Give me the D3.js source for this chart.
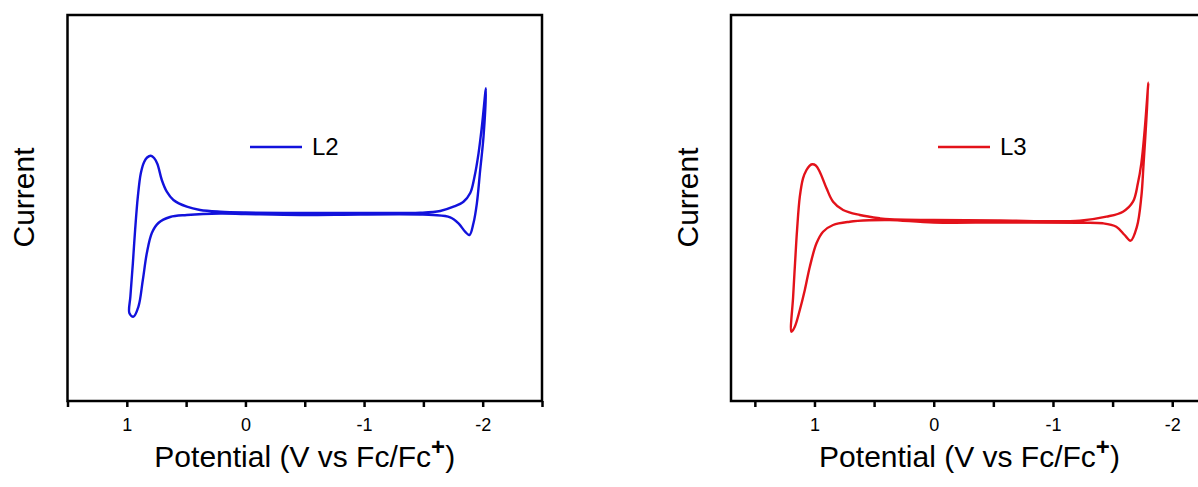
<!DOCTYPE html>
<html><head><meta charset="utf-8">
<script src="https://cdn.jsdelivr.net/npm/d3@7"></script>
<style>html,body{margin:0;padding:0;background:#fff;} svg{display:block;}</style>
</head><body><svg id="chart" width="1198" height="487"></svg>
<script>
// ---- data (potential in V vs Fc/Fc+, current in arbitrary units; closed CV loops) ----
const l2Potential = [0.798,0.770,0.742,0.705,0.663,0.607,0.494,0.382,0.213,0,-0.461,-0.967,-1.473,-1.642,-1.754,-1.838,-1.895,-1.931,-1.965,-1.993,-2.027,
  -2.007,-1.979,-1.951,-1.922,-1.889,-1.852,-1.796,-1.726,-1.585,-1.473,-0.967,-0.461,0,0.213,0.494,0.635,0.734,0.789,0.831,0.865,0.902,0.944,0.978,0.970,0.949,0.930,0.907,0.882,0.854,0.829];
const l2Current = [2.710,2.591,2.280,1.451,0.845,0.415,0.067,-0.104,-0.192,-0.233,-0.259,-0.259,-0.244,-0.155,0.067,0.326,0.777,1.622,2.834,4.212,6.202,
  3.694,1.969,0.244,-0.793,-1.399,-1.228,-0.793,-0.482,-0.363,-0.337,-0.337,-0.363,-0.311,-0.285,-0.363,-0.466,-0.777,-1.295,-2.332,-3.731,-5.114,-5.632,-5.456,-4.596,-2.865,-1.140,0.585,1.798,2.383,2.617];
const l3Potential = [1.020,0.989,0.956,0.899,0.844,0.760,0.620,0.453,0.369,0,-0.553,-1.224,-1.448,-1.587,-1.671,-1.712,-1.741,-1.769,-1.800,
  -1.783,-1.760,-1.741,-1.704,-1.651,-1.601,-1.531,-1.419,-1.224,-0.553,0,0.369,0.536,0.704,0.844,0.928,0.983,1.039,1.081,1.123,1.165,1.193,1.179,1.163,1.146,1.123,1.096,1.067,1.044];
const l3Current = [2.264,2.202,1.881,1.021,0.326,-0.104,-0.363,-0.534,-0.585,-0.622,-0.648,-0.658,-0.451,-0.192,0.326,1.280,2.316,4.041,6.492,
  4.560,2.316,0.585,-0.969,-1.694,-1.399,-0.969,-0.793,-0.762,-0.751,-0.751,-0.622,-0.637,-0.710,-0.881,-1.228,-1.829,-3.041,-4.249,-5.285,-6.150,-6.409,-4.596,-2.865,-1.140,0.585,1.539,1.969,2.176];
const tickValues = [1.5, 1, 0.5, 0, -0.5, -1, -1.5, -2, -2.5];
const labeledTicks = [1, 0, -1, -2];
const seriesNames = ["L2", "L3"];
const xTitle = "Potential (V vs Fc/Fc";
const yTitle = "Current";

// ---- layout ----
const svg = d3.select("#chart");
const FONT = "Arial, 'Liberation Sans', sans-serif";
const plotTop = 15, plotBottom = 401;
const panels = [
  {name: seriesNames[0], xs: l2Potential, ys: l2Current, domain: [1.5, -2.5], left: 67.5, right: 542, color: "#1212dc", legendX: 250, yTitleX: 34},
  {name: seriesNames[1], xs: l3Potential, ys: l3Current, domain: [1.7, -2.3], left: 731, right: 1208, color: "#e3121a", legendX: 938, yTitleX: 698}
];

panels.forEach(p => {
  const x = d3.scaleLinear().domain(p.domain).range([p.left, p.right]);
  const y = d3.scaleLinear().domain([-10, 10]).range([plotBottom, plotTop]);
  const g = svg.append("g");

  // curve
  const pts = p.xs.map((v, i) => [v, p.ys[i]]);
  const line = d3.line().x(d => x(d[0])).y(d => y(d[1])).curve(d3.curveCatmullRomClosed.alpha(0.5));
  g.append("path").attr("d", line(pts)).attr("fill", "none")
    .attr("stroke", p.color).attr("stroke-width", 2.4).attr("stroke-linejoin", "round");

  // frame
  g.append("rect").attr("x", p.left).attr("y", plotTop)
    .attr("width", p.right - p.left).attr("height", plotBottom - plotTop)
    .attr("fill", "none").attr("stroke", "#000").attr("stroke-width", 2.5);

  // x axis
  const [d0, d1] = p.domain;
  const tv = tickValues.filter(t => t <= Math.max(d0, d1) + 1e-9 && t >= Math.min(d0, d1) - 1e-9);
  const ax = d3.axisBottom(x).tickValues(tv).tickSize(6).tickPadding(11)
    .tickFormat(d => labeledTicks.includes(d) ? String(d) : "");
  const axg = g.append("g").attr("transform", `translate(0,${plotBottom})`).call(ax);
  axg.attr("font-size", 18).attr("font-family", FONT);
  axg.select(".domain").remove();
  axg.selectAll(".tick line").attr("stroke", "#000").attr("stroke-width", 2.5);
  axg.selectAll(".tick text").attr("font-family", FONT).attr("font-size", 18).attr("fill", "#000");

  // x title
  const cx = (p.left + p.right) / 2;
  const t = g.append("text").attr("x", cx).attr("y", 467).attr("text-anchor", "middle")
    .attr("font-family", FONT).attr("font-size", 30).attr("fill", "#000");
  t.append("tspan").text(xTitle);
  t.append("tspan").attr("font-size", 24).attr("font-weight", "bold").attr("dy", -12).text("+");
  t.append("tspan").attr("dy", 12).text(")");

  // y title
  g.append("text").attr("transform", `translate(${p.yTitleX},${197.5}) rotate(-90)`)
    .attr("text-anchor", "middle").attr("font-family", FONT).attr("font-size", 30).attr("fill", "#000")
    .text(yTitle);

  // legend
  g.append("line").attr("x1", p.legendX).attr("x2", p.legendX + 52).attr("y1", 147).attr("y2", 147)
    .attr("stroke", p.color).attr("stroke-width", 2.4);
  g.append("text").attr("x", p.legendX + 62).attr("y", 155).attr("font-family", FONT)
    .attr("font-size", 24).attr("fill", "#000").text(p.name);
});
</script></body></html>
